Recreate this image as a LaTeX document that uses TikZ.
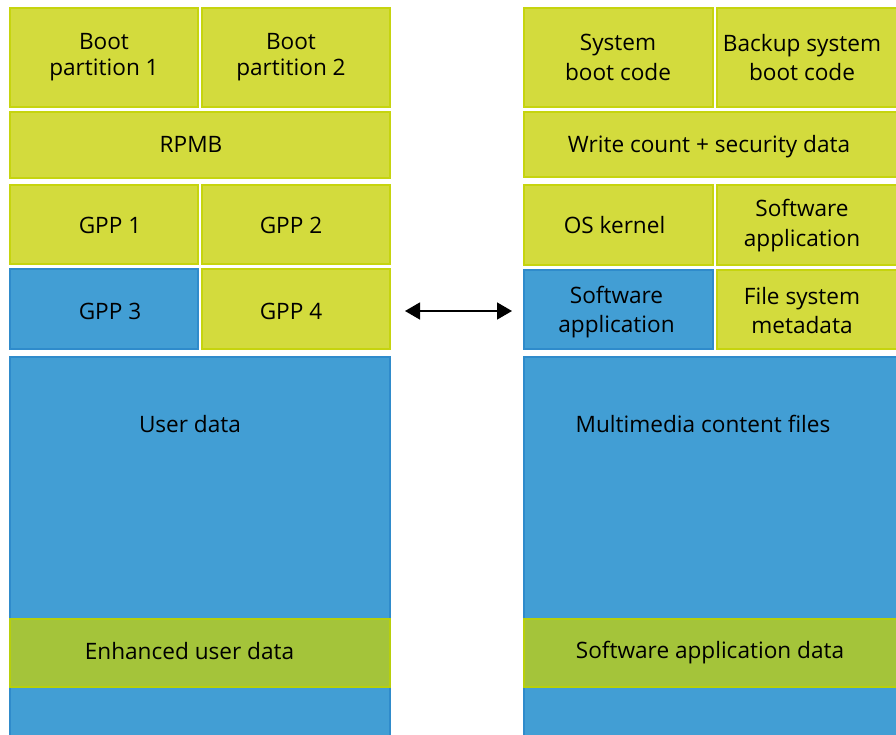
\documentclass[tikz,border=0pt]{standalone}
\usepackage{fontspec}
\setmainfont{Open Sans}
\usetikzlibrary{arrows.meta}
\definecolor{ylw}{HTML}{D3DB3D}
\definecolor{ylwb}{HTML}{C6D40E}
\definecolor{blu}{HTML}{429ED4}
\definecolor{blub}{HTML}{2F8BCB}
\definecolor{olv}{HTML}{A4C43A}
\definecolor{olvb}{HTML}{B8CF0A}
\begin{document}
\begin{tikzpicture}[x=1pt,y=-1pt,
  box/.style={rectangle,anchor=north west,inner sep=0pt,outer sep=0pt,line width=1.2pt},
  ybox/.style={box,fill=ylw,draw=ylwb},
  bbox/.style={box,fill=blu,draw=blub},
  obox/.style={box,fill=olv,draw=olvb},
  lbl/.style={inner sep=0pt,align=center,text=black,font=\fontsize{22.6}{25.5}\selectfont},
  lblr/.style={inner sep=0pt,align=center,text=black,font=\fontsize{22.6}{29.5}\selectfont}]
\useasboundingbox (0,0) rectangle (896,734);
\begin{scope}
\clip (0,0) rectangle (896,734);
% left column
\node[ybox,minimum width=188,minimum height=99] (bp1) at (10,8) {};
\node[ybox,minimum width=188,minimum height=99] (bp2) at (202,8) {};
\node[ybox,minimum width=380,minimum height=66] (rpmb) at (10,112) {};
\node[ybox,minimum width=188,minimum height=79] (gpp1) at (10,185) {};
\node[ybox,minimum width=188,minimum height=79] (gpp2) at (202,185) {};
\node[bbox,minimum width=188,minimum height=80] (gpp3) at (10,269) {};
\node[ybox,minimum width=188,minimum height=80] (gpp4) at (202,269) {};
\node[bbox,minimum width=380,minimum height=400] (user) at (10,357) {};
\node[obox,minimum width=380,minimum height=68] (enh) at (10,619) {};
% right column
\node[ybox,minimum width=189,minimum height=99] (sbc) at (524,8) {};
\node[ybox,minimum width=200,minimum height=99] (bsbc) at (717,8) {};
\node[ybox,minimum width=400,minimum height=65] (wcs) at (524,112) {};
\node[ybox,minimum width=189,minimum height=80] (osk) at (524,185) {};
\node[ybox,minimum width=200,minimum height=80] (swa1) at (717,185) {};
\node[bbox,minimum width=189,minimum height=79] (swa2) at (524,270) {};
\node[ybox,minimum width=200,minimum height=79] (fsm) at (717,270) {};
\node[bbox,minimum width=400,minimum height=400] (mm) at (524,357) {};
\node[obox,minimum width=400,minimum height=68] (sad) at (524,619) {};
\end{scope}
% labels left
\node[lbl] (tbp1) at (104,57) {Boot\\partition 1};
\node[lbl] (tbp2) at (291,57) {Boot\\partition 2};
\node[lbl] (trpmb) at (191,144) {RPMB};
\node[lbl] (tgpp1) at (110,225) {GPP 1};
\node[lbl] (tgpp2) at (291,225) {GPP 2};
\node[lbl] (tgpp3) at (110,311) {GPP 3};
\node[lbl] (tgpp4) at (291,311) {GPP 4};
\node[lbl] (tuser) at (190,424) {User data};
\node[lbl] (tenh) at (189.5,651) {Enhanced user data};
% labels right
\node[lblr] (tsbc) at (618,57.5) {System\\boot code};
\node[lblr] (tbsbc) at (802,57.5) {Backup system\\boot code};
\node[lbl] (twcs) at (709,146.5) {Write count + security data};
\node[lbl] (tosk) at (614.5,225) {OS kernel};
\node[lblr] (tswa1) at (802,225.5) {Software\\application};
\node[lblr] (tswa2) at (616.5,312) {Software\\application};
\node[lblr] (tfsm) at (802,310.5) {File system\\metadata};
\node[lbl] (tmm) at (703,424) {Multimedia content files};
\node[lbl] (tsad) at (710,652.5) {Software application data};
% arrow
\coordinate (al) at (405,311);
\coordinate (ar) at (512,311);
\draw[line width=1.5pt,{Triangle[length=15pt,width=17pt]}-{Triangle[length=15pt,width=17pt]}] (al) -- (ar);
\end{tikzpicture}
\end{document}
